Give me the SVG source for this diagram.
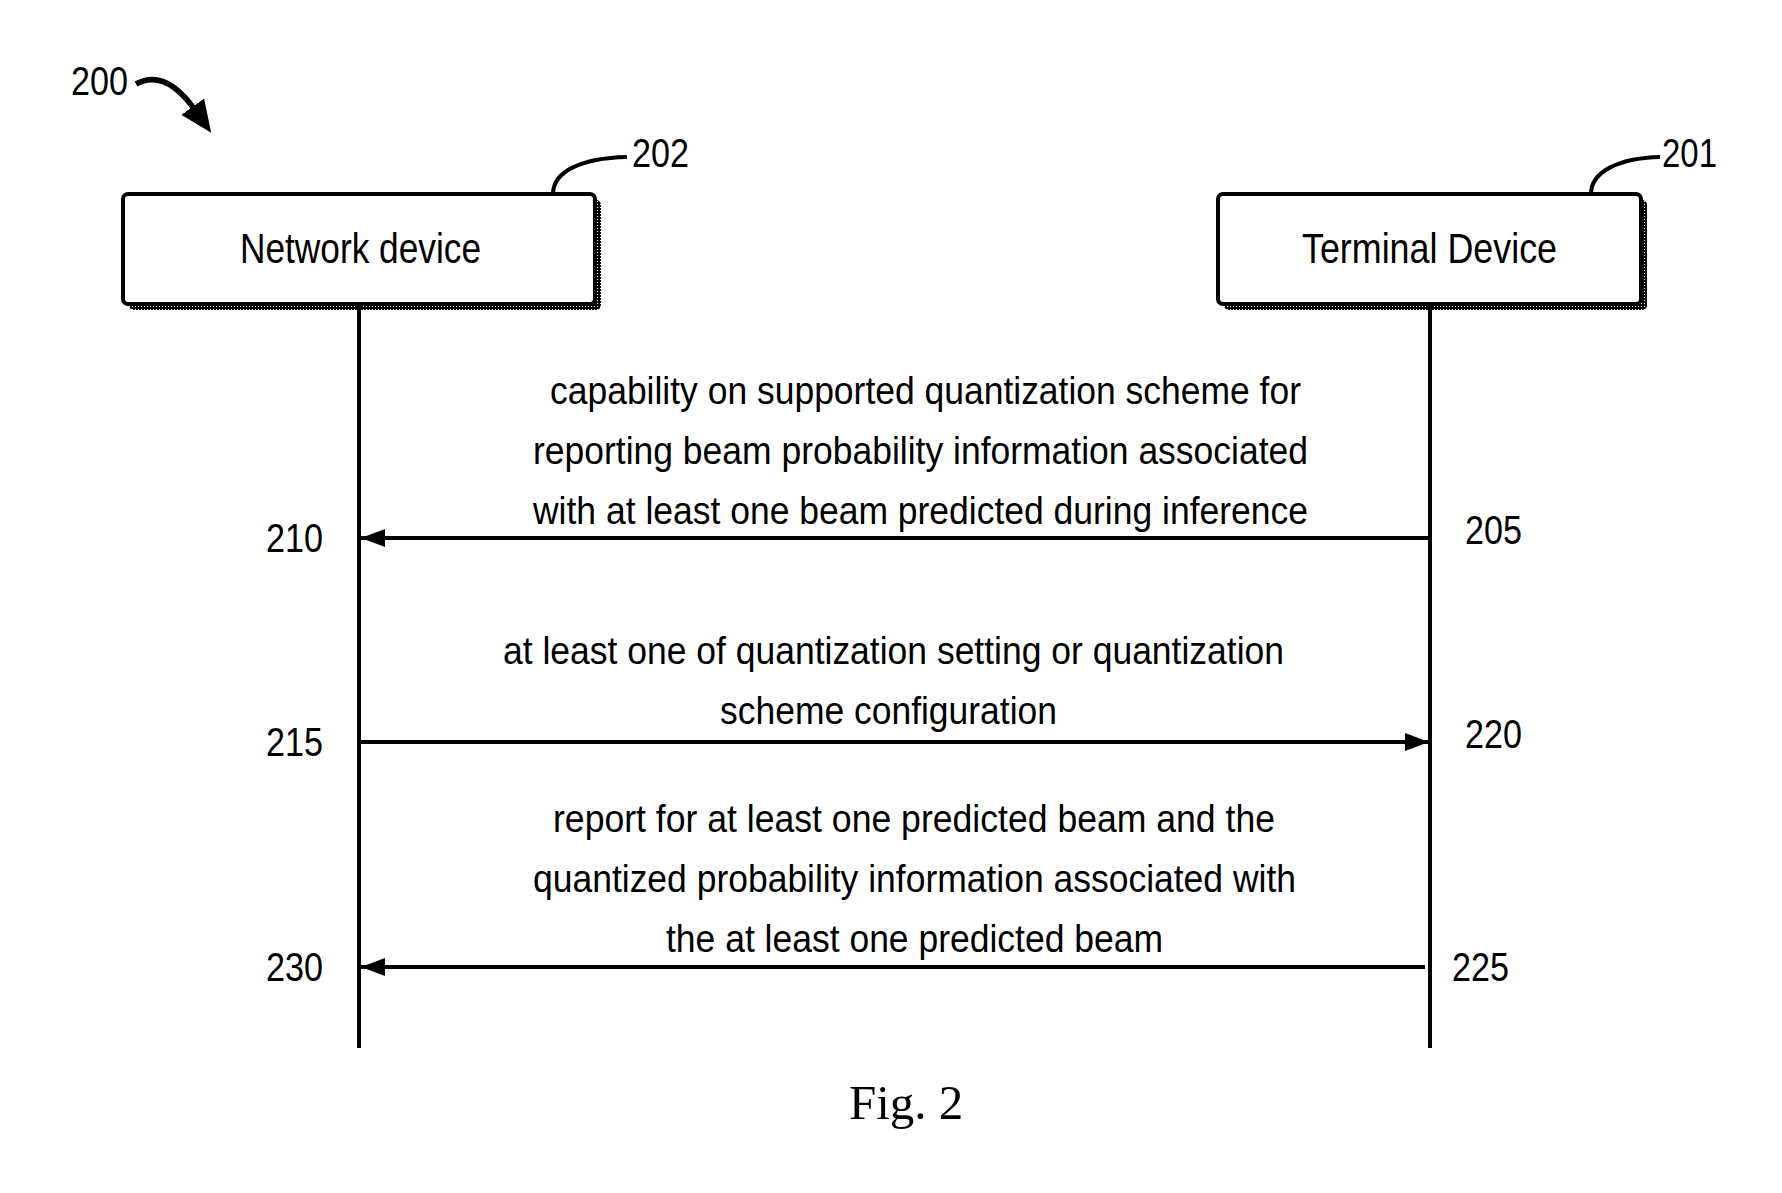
<svg xmlns="http://www.w3.org/2000/svg" width="1782" height="1193" viewBox="0 0 1782 1193">
<style>
.t{font-family:"Liberation Sans Narrow","Liberation Sans",Arial,sans-serif;fill:#000}
.body{font-size:38px}
.num{font-size:40px}
.box{fill:#fff;stroke:#000;stroke-width:4}
.life{stroke:#000;stroke-width:4;fill:none}
.msg{stroke:#000;stroke-width:4;fill:none}
.lead{stroke:#000;stroke-width:4;fill:none}
</style>
<defs>
<pattern id="chk" width="3" height="3" patternUnits="userSpaceOnUse">
<rect width="3" height="3" fill="#000"/>
<rect width="1" height="1" fill="#fff"/>
</pattern>
<marker id="ah" markerUnits="userSpaceOnUse" markerWidth="26" markerHeight="20" refX="24" refY="9" orient="auto">
<polygon points="0,0 24,9 0,18" fill="#000"/>
</marker>
<marker id="ah2" markerUnits="userSpaceOnUse" markerWidth="34" markerHeight="30" refX="4" refY="14" orient="auto">
<polygon points="0,0 32,14 0,28" fill="#000"/>
</marker>
</defs>
<rect width="1782" height="1193" fill="#fff"/>

<g id="label-200">
<text class="t num" x="71" y="95" textLength="57" lengthAdjust="spacingAndGlyphs">200</text>
<path d="M136,84 C158,72 178,86 195,110" fill="none" stroke="#000" stroke-width="5.5" marker-end="url(#ah2)"/>
</g>

<g id="network-device">
<rect x="129" y="200" width="472" height="110" rx="5" fill="url(#chk)"/>
<rect class="box" x="123" y="194" width="472" height="110" rx="5"/>
<text class="t" x="240" y="263" font-size="42" textLength="241" lengthAdjust="spacingAndGlyphs">Network device</text>
<path class="lead" d="M553,194 C553,172 580,158 627,157"/>
<text class="t num" x="632" y="167" textLength="57" lengthAdjust="spacingAndGlyphs">202</text>
</g>

<g id="terminal-device">
<rect x="1224" y="200" width="423" height="110" rx="5" fill="url(#chk)"/>
<rect class="box" x="1218" y="194" width="423" height="110" rx="5"/>
<text class="t" x="1302" y="263" font-size="42" textLength="255" lengthAdjust="spacingAndGlyphs">Terminal Device</text>
<path class="lead" d="M1591,194 C1591,172 1618,158 1660,157"/>
<text class="t num" x="1662" y="167" textLength="55" lengthAdjust="spacingAndGlyphs">201</text>
</g>

<g id="lifelines">
<line class="life" x1="359" y1="304" x2="359" y2="1048"/>
<line class="life" x1="1430" y1="304" x2="1430" y2="1048"/>
</g>

<g id="connectors">
<line class="msg" x1="1430" y1="538" x2="361" y2="538" marker-end="url(#ah)"/>
<line class="msg" x1="359" y1="742" x2="1429" y2="742" marker-end="url(#ah)"/>
<line class="msg" x1="1425" y1="967" x2="361" y2="967" marker-end="url(#ah)"/>
</g>

<g id="msg-205-210">
<text class="t body" x="550" y="404" textLength="751" lengthAdjust="spacingAndGlyphs">capability on supported quantization scheme for</text>
<text class="t body" x="533" y="464" textLength="775" lengthAdjust="spacingAndGlyphs">reporting beam probability information associated</text>
<text class="t body" x="533" y="524" textLength="775" lengthAdjust="spacingAndGlyphs">with at least one beam predicted during inference</text>
<text class="t num" x="266" y="552" textLength="57" lengthAdjust="spacingAndGlyphs">210</text>
<text class="t num" x="1465" y="544" textLength="57" lengthAdjust="spacingAndGlyphs">205</text>
</g>

<g id="msg-215-220">
<text class="t body" x="503" y="664" textLength="781" lengthAdjust="spacingAndGlyphs">at least one of quantization setting or quantization</text>
<text class="t body" x="720" y="724" textLength="337" lengthAdjust="spacingAndGlyphs">scheme configuration</text>
<text class="t num" x="266" y="756" textLength="57" lengthAdjust="spacingAndGlyphs">215</text>
<text class="t num" x="1465" y="748" textLength="57" lengthAdjust="spacingAndGlyphs">220</text>
</g>

<g id="msg-225-230">
<text class="t body" x="553" y="832" textLength="722" lengthAdjust="spacingAndGlyphs">report for at least one predicted beam and the</text>
<text class="t body" x="533" y="892" textLength="763" lengthAdjust="spacingAndGlyphs">quantized probability information associated with</text>
<text class="t body" x="666" y="952" textLength="497" lengthAdjust="spacingAndGlyphs">the at least one predicted beam</text>
<text class="t num" x="266" y="981" textLength="57" lengthAdjust="spacingAndGlyphs">230</text>
<text class="t num" x="1452" y="981" textLength="57" lengthAdjust="spacingAndGlyphs">225</text>
</g>

<text x="849" y="1119" font-family="Liberation Serif,serif" font-size="49" fill="#000">Fig. 2</text>
</svg>
